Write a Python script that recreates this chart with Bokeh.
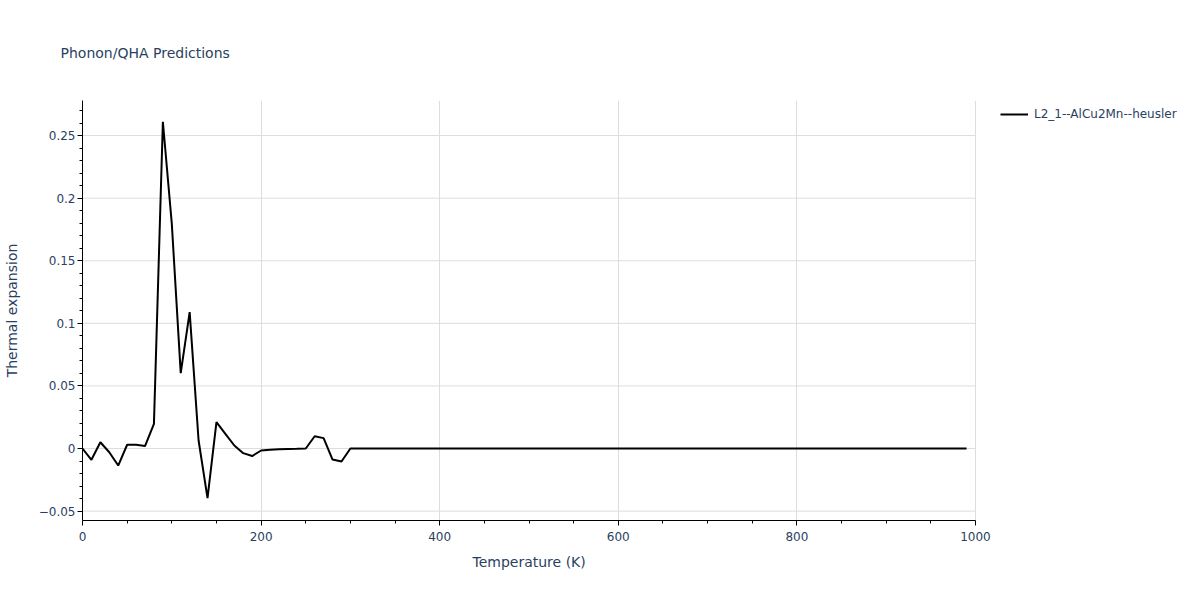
from bokeh.plotting import figure
from bokeh.models import FixedTicker, Legend, LegendItem, Title
from bokeh.embed import file_html
from bokeh.resources import INLINE

title_text = "Phonon/QHA Predictions"
series_name = "L2_1--AlCu2Mn--heusler"
x_label = "Temperature (K)"
y_label = "Thermal expansion"

temperature = [0, 10, 20, 30, 40, 50, 60, 70, 80, 90,
               100, 110, 120, 130, 140, 150, 160, 170, 180, 190,
               200, 210, 220, 230, 240, 250, 260, 270, 280, 290,
               300, 310, 320, 330, 340, 350, 360, 370, 380, 390,
               400, 410, 420, 430, 440, 450, 460, 470, 480, 490,
               500, 510, 520, 530, 540, 550, 560, 570, 580, 590,
               600, 610, 620, 630, 640, 650, 660, 670, 680, 690,
               700, 710, 720, 730, 740, 750, 760, 770, 780, 790,
               800, 810, 820, 830, 840, 850, 860, 870, 880, 890,
               900, 910, 920, 930, 940, 950, 960, 970, 980, 990]
expansion = [0.0, -0.009, 0.005, -0.003, -0.0136, 0.003, 0.003, 0.002, 0.0197, 0.261,
             0.1796, 0.0602, 0.109, 0.0064, -0.0397, 0.021, 0.0117, 0.0024, -0.0037, -0.006,
             -0.0016, -0.001, -0.0005, -0.0003, -0.0002, 0.0, 0.0098, 0.0083, -0.0088, -0.0104,
             0.0, 0.0, 0.0, 0.0, 0.0, 0.0, 0.0, 0.0, 0.0, 0.0,
             0.0, 0.0, 0.0, 0.0, 0.0, 0.0, 0.0, 0.0, 0.0, 0.0,
             0.0, 0.0, 0.0, 0.0, 0.0, 0.0, 0.0, 0.0, 0.0, 0.0,
             0.0, 0.0, 0.0, 0.0, 0.0, 0.0, 0.0, 0.0, 0.0, 0.0,
             0.0, 0.0, 0.0, 0.0, 0.0, 0.0, 0.0, 0.0, 0.0, 0.0,
             0.0, 0.0, 0.0, 0.0, 0.0, 0.0, 0.0, 0.0, 0.0, 0.0,
             0.0, 0.0, 0.0, 0.0, 0.0, 0.0, 0.0, 0.0, 0.0, 0.0]

x_ticks = [0, 200, 400, 600, 800, 1000]
x_minor = [50, 100, 150, 250, 300, 350, 450, 500, 550, 650, 700, 750, 850, 900, 950]
y_ticks = [-0.05, 0, 0.05, 0.1, 0.15, 0.2, 0.25]
y_tick_labels = ["\u22120.05", "0", "0.05", "0.1", "0.15", "0.2", "0.25"]
y_minor = [-0.05, -0.04, -0.03, -0.02, -0.01, 0.0, 0.01, 0.02, 0.03, 0.04, 0.05,
           0.06, 0.07, 0.08, 0.09, 0.1, 0.11, 0.12, 0.13, 0.14, 0.15, 0.16, 0.17,
           0.18, 0.19, 0.2, 0.21, 0.22, 0.23, 0.24, 0.25, 0.26, 0.27]

FONT = "DejaVu Sans"
TXT = "#2a3f5f"
GRID = "#dddddd"

X_MIN, X_MAX = 0, 1000
Y_MIN, Y_MAX = -0.0575, 0.278
LEFT, FRAME_W_DATA, WIDTH = 82, 893, 1184
# the frame extends to the right edge so the legend can sit beside the axes
x_end = X_MIN + (X_MAX - X_MIN) * (WIDTH - LEFT) / FRAME_W_DATA

p = figure(width=WIDTH, height=584, output_backend="svg", toolbar_location=None,
           x_range=(X_MIN, x_end), y_range=(Y_MIN, Y_MAX),
           min_border_left=LEFT, min_border_right=0, min_border_top=100, min_border_bottom=64)
p.outline_line_color = None
p.background_fill_color = "white"
p.border_fill_color = "white"

p.title = Title(text=title_text, text_font=FONT, text_font_size="14px",
                text_color=TXT, text_font_style="normal", align="left",
                vertical_align="top", offset=-22, standoff=76)

# horizontal grid lines limited to the data width
p.ygrid.visible = False
p.segment(x0=[X_MIN] * len(y_ticks), x1=[X_MAX] * len(y_ticks), y0=y_ticks, y1=y_ticks,
          line_color=GRID, line_width=1)

r = p.line(temperature, expansion, line_color="black", line_width=2)

for ax in (p.xaxis[0], p.yaxis[0]):
    ax.axis_line_color = "black"
    ax.axis_line_width = 1
    ax.major_tick_line_color = "black"
    ax.minor_tick_line_color = "black"
    ax.major_tick_out = 5
    ax.major_tick_in = 0
    ax.minor_tick_out = 3
    ax.minor_tick_in = 0
    ax.major_label_text_font = FONT
    ax.major_label_text_font_size = "12px"
    ax.major_label_text_color = TXT
    ax.axis_label_text_font = FONT
    ax.axis_label_text_font_size = "14px"
    ax.axis_label_text_color = TXT
    ax.axis_label_text_font_style = "normal"

p.xaxis.bounds = (X_MIN, X_MAX)
p.xaxis.ticker = FixedTicker(ticks=x_ticks, minor_ticks=x_minor)
p.yaxis.ticker = FixedTicker(ticks=y_ticks, minor_ticks=y_minor)
p.yaxis.major_label_overrides = {t: s for t, s in zip(y_ticks, y_tick_labels)}
p.yaxis.axis_label = y_label
p.yaxis.axis_label_standoff = 16
p.xaxis.major_label_standoff = 6
p.yaxis.major_label_standoff = 2

# x-axis title centred under the data width (the frame is wider than the axis)
xtitle = Title(text=x_label, text_font=FONT, text_font_size="14px",
               text_color=TXT, text_font_style="normal", align="left",
               offset=390, standoff=16)
p.add_layout(xtitle, "below")

p.xgrid.grid_line_color = GRID
p.xgrid.grid_line_width = 1

legend = Legend(items=[LegendItem(label=series_name, renderers=[r])],
                location=(918, 396), padding=0, margin=0,
                glyph_width=28, glyph_height=20, label_height=20,
                label_text_font=FONT, label_text_font_size="12px",
                label_text_color=TXT, border_line_color=None,
                background_fill_alpha=0, label_standoff=6)
p.add_layout(legend, "center")

open("out.html", "w").write(file_html(p, INLINE))
